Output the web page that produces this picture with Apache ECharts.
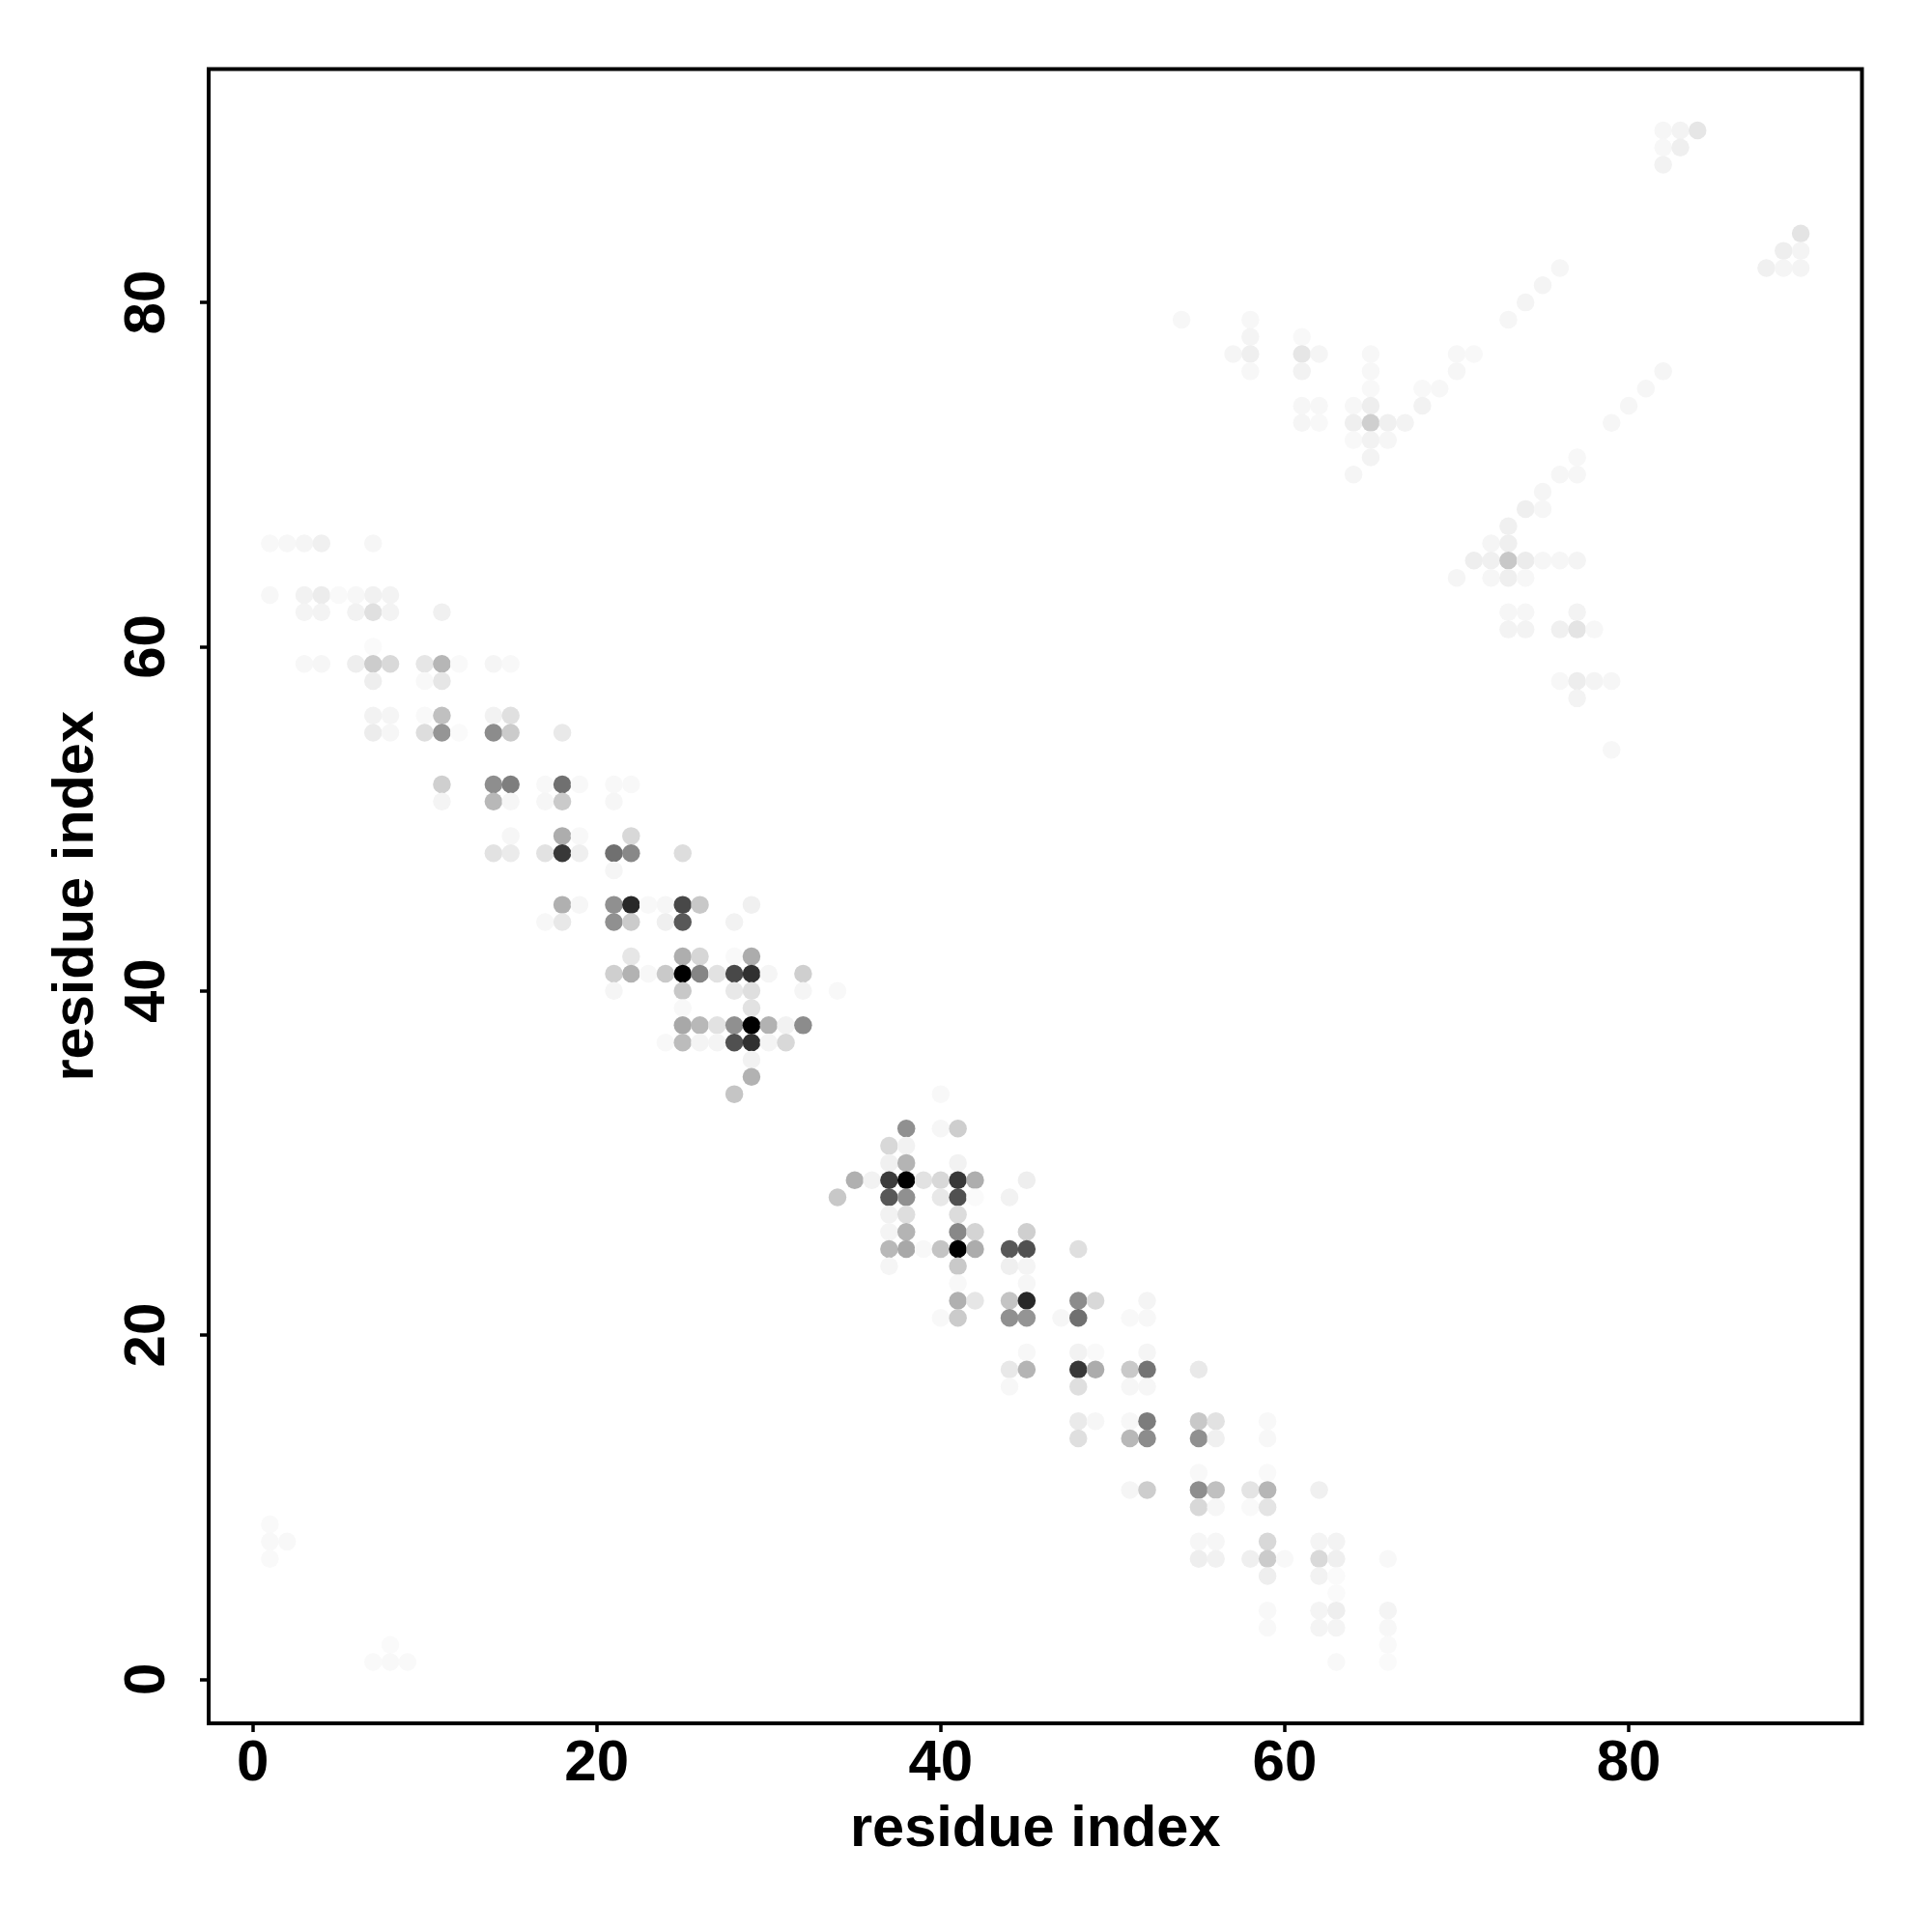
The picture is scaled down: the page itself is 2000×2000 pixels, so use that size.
<!DOCTYPE html>
<html>
<head>
<meta charset="utf-8">
<style>html,body{margin:0;padding:0;background:#fff}#c{width:2000px;height:2000px}</style>
<script src="https://cdn.jsdelivr.net/npm/echarts@6/dist/echarts.min.js"></script>
</head>
<body>
<div id="c"></div>
<script>
const tickValues = [0, 20, 40, 60, 80];
const axisTitle = 'residue index';
const rowY = [90,89,88,84,83,82,81,80,79,78,77,76,75,74,73,72,71,70,69,68,67,66,65,64,63,62,61,60,59,58,57,56,55,54,52,51,49,48,47,45,44,42,41,40,39,38,37,36,35,34,32,31,30,29,28,27,26,25,24,23,22,21,19,18,17,15,14,12,11,10,9,8,7,6,5,4,3,2,1];
const rowX = [
[82,83,84],[82,83],[82],[90],[89,90],[76,88,89,90],[75],[74],[54,58,73],[58,61],
[57,58,61,62,65,70,71],[58,61,65,70,82],[65,68,69,81],[61,62,64,65,68,80],[61,62,64,65,66,67,79],[64,65,66],[65,77],[64,76,77],[75],[74,75],
[73],[1,2,3,4,7,72,73],[71,72,73,74,75,76,77],[70,72,73,74],[1,3,4,5,6,7,8],[3,4,6,7,8,11,73,74,77],[73,74,76,77,78],[7],
[3,4,6,7,8,10,11,12,14,15],[7,10,11,76,77,78,79],[77],[7,8,10,11,14,15],[7,8,10,11,12,14,15,18],[79],
[11,14,15,17,18,19,21,22],[11,14,15,17,18,21],[15,18,19,22],[14,15,17,18,19,21,22,25],[21],
[18,19,21,22,23,24,25,26,29],[17,18,21,22,24,25,28],[22,25,26,28,29],[21,22,23,24,25,26,27,28,29,30,32],[21,25,28,29,32,34],[25,29],
[25,26,27,28,29,30,31,32],[24,25,26,27,28,29,30,31],[29],[29],[28,40],
[38,40,41],[37,38],[37,38,41],[35,36,37,38,39,40,41,42,45],[34,37,38,40,41,42,44],[37,38,41],[37,38,41,42,45],[37,38,39,40,41,42,44,45,48],[37,41,44,45],[41,45],
[41,42,44,45,48,49,52],[40,41,44,45,47,48,51,52],[45,48,49,52],[44,45,48,49,51,52,55],[44,48,51,52],[48,49,51,52,55,56,59],[48,51,52,55,56,59],[55,59],
[51,52,55,56,58,59,62],[55,56,58,59],[1],[1,2,55,56,59,62,63],[1,55,56,58,59,60,62,63,66],[59,62,63],[63],[59,62,63,66],[59,62,63,66],[8,66],[7,8,9,63,66]
];
const rowContact = [
[9,12,25],[8,16],[13],[27],[17,11],[9,15,10,11],[11],[11],[8,8,9],[11,7],
[10,16,25,10,8,8,7],[8,13,8,9,10],[7,7,8,9],[9,8,8,17,13,9],[10,7,16,48,15,12,9],[7,13,9],[12,8],[10,9,9],[10],[16,9],
[15],[7,8,10,15,9,10,16],[17,15,55,19,9,9,11],[10,9,16,8],[8,13,19,6,8,14,12],[11,12,13,31,12,15,9,9,12],[12,12,15,27,8],[5],
[8,9,17,51,38,25,73,6,10,7],[17,7,25,8,18,11,9],[12],[13,10,6,63,13,31],[19,9,34,106,5,115,52,22],[8],
[48,113,129,7,143,7,7,7],[11,71,9,9,53,9],[9,82,7,39],[29,20,29,199,16,143,119,34],[10],
[79,9,111,215,7,9,183,55,15],[8,23,111,52,16,167,13],[25,81,41,6,83],[48,77,8,54,255,122,29,183,207,10,48],[10,55,23,32,10,7],[7,29],
[87,71,29,111,255,77,13,115],[7,67,11,11,175,207,11,39],[13],[77],[58,7],
[111,9,49],[39,13],[15,75,13],[79,13,195,255,29,39,199,81,17],[55,167,111,23,175,5,13],[13,33,35],[11,75,119,43,48],[71,87,7,59,255,83,167,175,32],[10,54,16,11],[7,9],
[79,25,59,215,115,39,11],[7,52,111,107,9,143,7,8],[8,13,6,10],[23,75,199,83,54,139,22],[8,32,9,9],[21,9,8,131,55,29,7],[32,71,115,111,15,8],[7,6],
[10,50,113,63,27,73,15],[39,9,6,27],[6],[7,7,9,9,39,11,12],[6,17,14,16,52,7,38,16,7],[17,13,5],[5],[7,11,17,11],[7,11,11,8],[5,6],[6,7,6,7,5]
];

const points = [];
rowY.forEach((y, r) => rowX[r].forEach((x, k) => points.push([x, y, rowContact[r][k]])));

const fontFamily = '"Liberation Sans", Arial, sans-serif';
const axisCommon = {
  type: 'value',
  min: -2.56,
  max: 93.56,
  name: axisTitle,
  nameLocation: 'middle',
  nameTextStyle: { fontFamily, fontWeight: 'bold', fontSize: 59.5, color: '#000' },
  axisLine: { show: false, onZero: false },
  splitLine: { show: false },
  axisTick: { show: true, inside: false, length: 9, customValues: tickValues, lineStyle: { color: '#000', width: 3.5 } }
};

const chart = echarts.init(document.getElementById('c'), null, { renderer: 'canvas' });
chart.setOption({
  animation: false,
  backgroundColor: '#fff',
  grid: { show: true, left: 216, top: 71.5, width: 1711.5, height: 1712.5, borderColor: '#000', borderWidth: 4, backgroundColor: 'transparent' },
  xAxis: Object.assign({}, axisCommon, {
    nameGap: 81,
    axisLabel: { show: true, customValues: tickValues, margin: 12, fontFamily, fontWeight: 'bold', fontSize: 60, color: '#000' }
  }),
  yAxis: Object.assign({}, axisCommon, {
    nameGap: 106,
    axisLabel: { show: true, customValues: tickValues, rotate: 90, margin: 33, fontFamily, fontWeight: 'bold', fontSize: 60, color: '#000' }
  }),
  visualMap: { show: false, type: 'continuous', dimension: 2, min: 0, max: 255, seriesIndex: 0, inRange: { color: ['#ffffff', '#000000'] } },
  series: [{
    type: 'scatter',
    data: points,
    symbol: 'circle',
    symbolSize: 18.5,
    clip: true,
    itemStyle: { opacity: 1, borderWidth: 0 },
    emphasis: { disabled: true }
  }]
});
</script>
</body>
</html>
